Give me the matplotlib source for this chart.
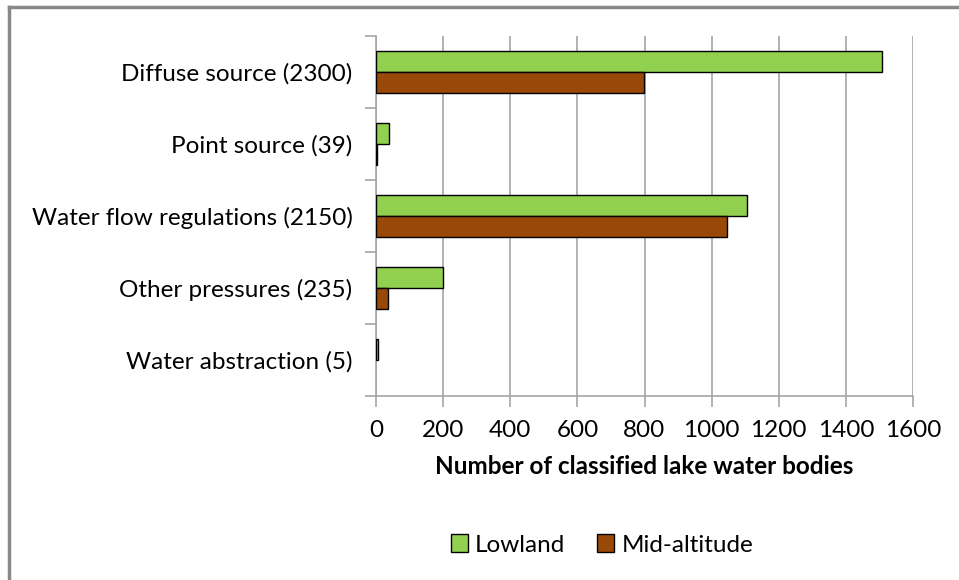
import numpy as np
import matplotlib.pyplot as plt

plt.rcParams['font.family'] = ['Lato', 'DejaVu Sans']

categories = ['Diffuse source (2300)', 'Point source (39)',
              'Water flow regulations (2150)', 'Other pressures (235)',
              'Water abstraction (5)']
lowland = [1507, 39, 1105, 200, 6]
mid_altitude = [798, 3, 1045, 35, 0]
x_ticks = [0, 200, 400, 600, 800, 1000, 1200, 1400, 1600]

green = '#92D050'
brown = '#984807'
grey = '#A6A6A6'

fig = plt.figure(figsize=(9.59, 5.8), dpi=100)
ax = fig.add_axes([376 / 959, 1 - 396 / 580, (913 - 376) / 959, (396 - 36) / 580])

y = np.arange(len(categories))
h = 0.29
for vals, offset, col, lab in [(lowland, -h / 2, green, 'Lowland'),
                               (mid_altitude, h / 2, brown, 'Mid-altitude')]:
    edges = ['black' if v > 0 else 'none' for v in vals]
    ax.barh(y + offset, vals, height=h, color=col, edgecolor=edges, linewidth=1, label=lab, zorder=3)

ax.set_ylim(len(categories) - 0.5, -0.5)
ax.set_xlim(0, 1600)
ax.set_xticks(x_ticks)
ax.set_xticklabels([str(t) for t in x_ticks], fontsize=17.5)
ax.set_yticks(np.arange(len(categories) + 1) - 0.5)
ax.set_yticklabels([])
ax.set_yticks(y, minor=True)
ax.set_yticklabels(categories, minor=True, fontsize=17.5)
ax.tick_params(axis='y', which='minor', length=0, pad=17)
ax.tick_params(axis='y', which='major', length=8, color=grey, width=1.2)
ax.tick_params(axis='x', length=8, color=grey, width=1.2, pad=9)

ax.grid(axis='x', color=grey, linewidth=1.2, zorder=0)
for s in ['top', 'right']:
    ax.spines[s].set_visible(False)
for s in ['left', 'bottom']:
    ax.spines[s].set_color(grey)
    ax.spines[s].set_linewidth(1.2)

ax.set_xlabel('Number of classified lake water bodies', fontsize=17.5, fontweight='bold', labelpad=10)

leg = ax.legend(loc='center', bbox_to_anchor=(602 / 959, 1 - 545 / 580), bbox_transform=fig.transFigure,
                ncol=2, frameon=False, fontsize=17.5, handlelength=0.7, handleheight=0.7,
                handletextpad=0.3, columnspacing=1.3)
for patch in leg.get_patches():
    patch.set_edgecolor('black')

# outer border (top and left only, as in the cropped original)
fig.add_artist(plt.Line2D([9 / 959, 1], [1 - 7 / 580, 1 - 7 / 580], color='#888888', linewidth=2.5, transform=fig.transFigure))
fig.add_artist(plt.Line2D([9 / 959, 9 / 959], [0, 1 - 7 / 580], color='#888888', linewidth=2.5, transform=fig.transFigure))

fig.savefig('out.png', dpi=100, facecolor='white')
